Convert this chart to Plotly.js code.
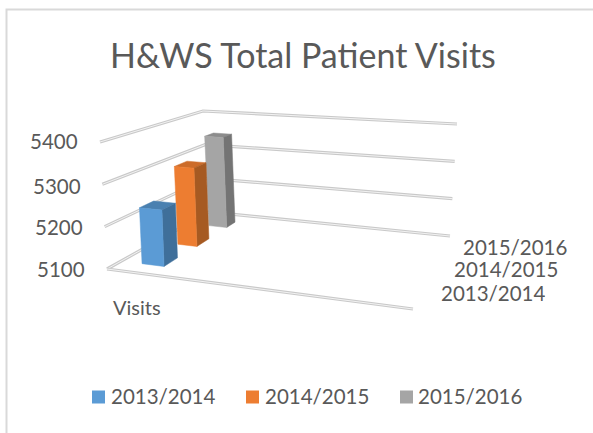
<!DOCTYPE html>
<html>
<head>
<meta charset="utf-8">
<script src="https://cdn.plot.ly/plotly-3.0.1.min.js"></script>
<style>html,body{margin:0;padding:0;background:#fff}#c{width:593px;height:433px}</style>
</head>
<body>
<div id="c"></div>
<script>
// ---- data ----
var chartTitle = "H&WS Total Patient Visits";
var categoryName = "Visits";
var seasons = ["2013/2014", "2014/2015", "2015/2016"];
var visits = [5235, 5302, 5350];
var valueTicks = [5100, 5200, 5300, 5400];

// ---- styles ----
var frontColors = ["#5B9BD5", "#ED7D31", "#A5A5A5"];
var sideColors = ["#3F6F9A", "#A65A22", "#747474"];
var topColors = ["#4A80B0", "#CC6C2A", "#8C8C8C"];
var textColor = "#595959";
var fontName = "Lato, 'Open Sans', sans-serif";

// ---- projection of the pseudo-3D box onto the hidden pixel-scaled axes ----
var vMin = 5100, vMax = 5400;
var floorC = {fl:[107,269], bl:[209,212], fr:[413,309], br:[450,236]};
var topC   = {fl:[100,142], bl:[203,111], fr:[422,169], br:[457,124]};
function lerp(a,b,t){return [a[0]+(b[0]-a[0])*t, a[1]+(b[1]-a[1])*t];}
function project(u,w,value){
  var v=(value-vMin)/(vMax-vMin);
  var f=lerp(lerp(floorC.fl,floorC.bl,w),lerp(floorC.fr,floorC.br,w),u);
  var t=lerp(lerp(topC.fl,topC.bl,w),lerp(topC.fr,topC.br,w),u);
  return lerp(f,t,v);
}
// footprints of the bars in box units
var uBands = [[0.070,0.144],[0.080,0.149],[0.080,0.150]];
var wBands = [[0.14,0.285],[0.48,0.61],[0.80,0.89]];

var traces = [];
function poly(pts,color,width,closed,name){
  var xs=pts.map(function(p){return p[0];}), ys=pts.map(function(p){return p[1];});
  if(closed){xs.push(xs[0]);ys.push(ys[0]);}
  traces.push({type:"scatter",mode:"lines",x:xs,y:ys,name:name||"",showlegend:false,hoverinfo:"skip",
    fill:closed?"toself":"none",fillcolor:closed?color:undefined,
    line:{color:color,width:width,simplify:false}});
}
// gridlines (double rail look)
function rail(pts){ poly(pts,"#C9C9C9",3.2,false); poly(pts,"#F2F2F2",1,false); }
valueTicks.forEach(function(t){
  rail([project(0,0,t),project(0,1,t),project(1,1,t)]);
  if(t===vMin) rail([project(0,0,t),project(1,0,t)]);
});
// bars, back to front
for(var i=visits.length-1;i>=0;i--){
  var u=uBands[i], w=wBands[i], h=visits[i];
  poly([project(u[0],w[0],h),project(u[1],w[0],h),project(u[1],w[1],h),project(u[0],w[1],h)],topColors[i],0.5,true,seasons[i]);
  poly([project(u[1],w[0],vMin),project(u[1],w[1],vMin),project(u[1],w[1],h),project(u[1],w[0],h)],sideColors[i],0.5,true,seasons[i]);
  poly([project(u[0],w[0],vMin),project(u[1],w[0],vMin),project(u[1],w[0],h),project(u[0],w[0],h)],frontColors[i],0.5,true,seasons[i]);
}
// legend row
var legendX = [98.5, 252.5, 406.5], legendY = 397;
seasons.forEach(function(s,i){
  traces.push({type:"scatter",mode:"markers",x:[legendX[i]],y:[legendY],name:s,showlegend:false,hoverinfo:"skip",
    marker:{symbol:"square",size:13,color:frontColors[i],line:{width:0}}});
});

function label(t,x,y,anchor){
  return {text:String(t),x:x,y:y,xref:"x",yref:"y",showarrow:false,xanchor:anchor,yanchor:"middle",
    borderpad:0,font:{family:fontName,size:20.5,color:textColor}};
}
var tickRight=[86,84,82,79], tickY=[269,227,186,141];
var annos = valueTicks.map(function(t,i){return label(t,tickRight[i],tickY[i],"right");});
var seasonLeft=[440,453,462], seasonY=[292,268,246];
seasons.forEach(function(s,i){var a=label(s,seasonLeft[i],seasonY[i],"left");a.height=21;annos.push(a);});
var legendTextX=[110,264,417];
seasons.forEach(function(s,i){annos.push(label(s,legendTextX[i],legendY-1,"left"));});
var cat=label(categoryName,112,307,"left"); cat.font.size=20; annos.push(cat);
var titleAnno = label(chartTitle,303,54,"center"); titleAnno.font.size=34; annos.push(titleAnno);

var layout = {
  width:593,height:433,margin:{l:0,r:0,t:0,b:0,pad:0},
  paper_bgcolor:"#fff",plot_bgcolor:"#fff",showlegend:false,
  xaxis:{range:[0,593],visible:false,fixedrange:true},
  yaxis:{range:[433,0],visible:false,fixedrange:true},
  annotations:annos,
  shapes:[{type:"path",xref:"x",yref:"y",path:"M6.5,433 L6.5,9.5 L593,9.5",line:{color:"#D9D9D9",width:2},fillcolor:"rgba(0,0,0,0)"}]
};
Plotly.newPlot("c",traces,layout,{displayModeBar:false,staticPlot:true});
</script>
</body>
</html>
